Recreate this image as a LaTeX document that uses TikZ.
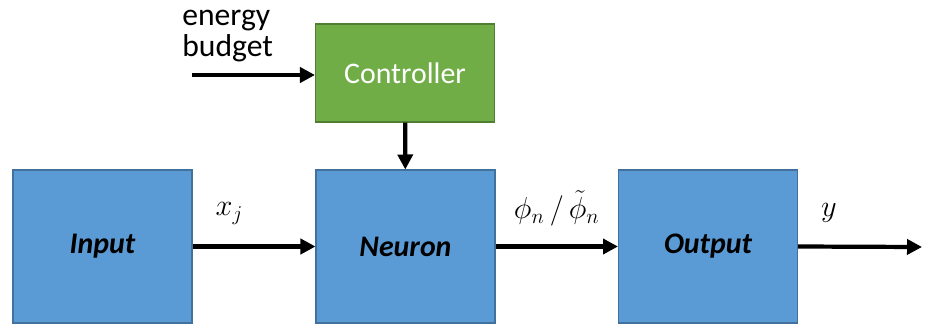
\documentclass[tikz,border=0pt]{standalone}
\usepackage{fontspec}
\setmainfont{Carlito}
\usepackage{amsmath}
\usetikzlibrary{arrows.meta}
\definecolor{boxblue}{HTML}{5B9BD5}
\definecolor{boxblueline}{HTML}{41719C}
\definecolor{boxgreen}{HTML}{70AD47}
\definecolor{boxgreenline}{HTML}{507E32}
\begin{document}
\begin{tikzpicture}[x=0.02cm, y=-0.02cm, >={Triangle[length=0.3cm, width=0.3cm]},
	block/.style={draw=boxblueline, fill=boxblue, line width=0.6pt, minimum width=3.58cm, minimum height=3.06cm, font=\fontsize{17}{19}\selectfont\bfseries\itshape},
	ctrl/.style={draw=boxgreenline, fill=boxgreen, line width=0.6pt, minimum width=3.58cm, minimum height=1.96cm, text=white, font=\fontsize{17}{19}\selectfont},
	flow/.style={->, line width=2.4pt},
	lbl/.style={font=\fontsize{18}{21}\selectfont}]
	\useasboundingbox (0,0) rectangle (925,328);
	\node[block] (in) at (102.5,246.5) {Input};
	\node[block] (neuron) at (405.5,246.5) {Neuron};
	\node[block] (out) at (708,246.5) {Output};
	\node[ctrl] (ctrl) at (405,73) {Controller};
	\node[font=\fontsize{18}{17.5}\selectfont, anchor=north west, align=left, inner sep=0pt] (budget) at (182,10) {energy\\budget};
	\coordinate (bstart) at (192,75);
	\coordinate (yend) at (922,247);

	\draw[flow] (bstart) -- (bstart -| ctrl.west);
	\draw[flow] (ctrl) -- (neuron);
	\draw[flow] (in) -- (neuron) node[pos=.3, above=8pt, lbl]{$x_j$};
	\draw[flow] (neuron) -- (out) node[midway, above=7pt, lbl]{$\phi_n \, / \, \tilde{\phi}_n$};
	\draw[flow] (out.east) -- (yend) node[pos=.25, above=9pt, lbl]{$y$};
\end{tikzpicture}
\end{document}
